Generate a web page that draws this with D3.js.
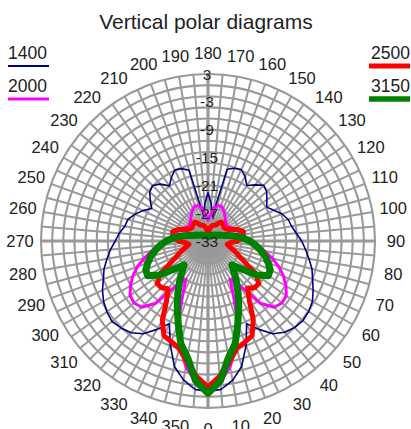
<!DOCTYPE html>
<html>
<head>
<meta charset="utf-8">
<script src="https://cdn.jsdelivr.net/npm/d3@7"></script>
<style>
  body { margin: 0; background: #fff; }
  text { font-family: "Liberation Sans", Arial, sans-serif; fill: #222; }
</style>
</head>
<body>
<svg id="chart" width="411" height="429"></svg>
<script>
// ---------- data ----------
const title = "Vertical polar diagrams";
const angles = [0,5,10,15,20,25,30,35,40,45,50,55,60,65,70,75,80,85,90,95,100,105,110,115,120,125,130,135,140,145,150,155,160,165,170,175,
                180,185,190,195,200,205,210,215,220,225,230,235,240,245,250,255,260,265,270,275,280,285,290,295,300,305,310,315,320,325,330,335,340,345,350,355];
const angleTicks = [0,10,20,30,40,50,60,70,80,90,100,110,120,130,140,150,160,170,180,190,200,210,220,230,240,250,260,270,280,290,300,310,320,330,340,350];
const radialTicks = [3,-3,-9,-15,-21,-27,-33];
const radialDomain = [-33, 3];
const seriesNames = ["1400","2000","2500","3150"];

const s1400 = [-0.5,-0.9,-2.5,-5.0,-9.0,-13.3,-11.0,-8.6,-7.3,-6.6,-6.3,-6.5,-7.0,-8.0,-9.0,-9.8,-10.9,-11.9,-12.8,-13.9,-14.7,-15.1,-16.0,-17.3,-18.4,-17.5,-16.5,-16.0,-17.2,-18.4,-17.0,-16.0,-16.3,-17.0,-27.5,-25.0,
               -22.6,-25.0,-27.5,-17.2,-16.4,-16.1,-17.2,-18.5,-17.0,-16.1,-16.6,-17.8,-19.0,-17.5,-16.2,-15.1,-14.8,-13.8,-13.0,-11.9,-10.9,-9.8,-9.0,-7.9,-7.0,-6.4,-6.0,-6.5,-7.2,-8.6,-11.0,-13.3,-9.2,-5.0,-2.6,-0.9];
const s2000 = [-1.2,-2.4,-5.5,-9.5,-14.2,-20.0,-23.5,-21.5,-15.5,-12.8,-12.2,-12.4,-13.6,-15.0,-16.7,-18.7,-20.6,-22.3,-23.7,-24.8,-25.5,-25.9,-26.3,-26.8,-27.3,-27.6,-27.7,-27.5,-27.2,-26.6,-26.0,-25.3,-24.9,-25.2,-25.8,-27.6,
               -28.5,-27.6,-25.8,-25.2,-24.9,-25.3,-26.0,-26.6,-27.2,-27.5,-27.7,-27.6,-27.3,-26.8,-26.3,-25.9,-25.5,-24.8,-23.8,-22.4,-20.7,-18.8,-16.8,-15.1,-13.7,-12.5,-12.2,-12.8,-15.5,-21.5,-23.5,-20.0,-14.3,-9.5,-5.5,-2.4];
const s2500 = [-1.5,-3.8,-6.5,-9.0,-9.8,-10.5,-13.5,-17.5,-19.7,-18.8,-18.7,-20.3,-23.8,-25.8,-27.0,-28.1,-28.8,-28.3,-26.6,-25.7,-25.3,-25.1,-25.9,-27.0,-28.0,-28.4,-28.5,-28.3,-28.1,-28.0,-28.6,-29.2,-29.4,-29.6,-30.0,-30.8,
               -31.6,-30.8,-30.0,-29.6,-29.4,-29.2,-28.6,-28.0,-28.1,-28.3,-28.5,-28.4,-28.0,-27.0,-25.9,-25.1,-25.3,-25.7,-26.6,-28.3,-28.8,-28.1,-27.0,-25.8,-23.8,-20.3,-18.7,-18.8,-19.6,-17.5,-13.3,-10.5,-9.9,-9.0,-6.6,-3.8];
const s3150 = [-0.2,-2.7,-7.5,-10.2,-14.2,-17.3,-20.0,-22.3,-24.3,-25.7,-23.7,-20.2,-18.0,-18.2,-19.2,-20.2,-21.5,-22.7,-24.0,-25.5,-27.0,-28.5,-29.5,-30.0,-30.5,-30.8,-31.0,-31.2,-31.4,-31.5,-31.6,-31.7,-31.8,-31.8,-31.9,-31.9,
               -31.9,-31.9,-31.9,-31.8,-31.8,-31.7,-31.6,-31.5,-31.4,-31.2,-31.0,-30.8,-30.5,-30.0,-29.5,-28.5,-27.0,-25.5,-24.0,-22.7,-21.5,-20.2,-19.2,-18.2,-18.0,-20.2,-23.7,-25.7,-24.3,-22.3,-20.0,-17.3,-14.2,-10.2,-7.5,-2.7];
const seriesValues = [s1400, s2000, s2500, s3150];
const seriesColors = ["#000080", "#ff00ff", "#ff0000", "#008000"];
const seriesWidths = [1.6, 3, 5, 7];

// ---------- layout ----------
const cx = 208, cy = 241, R = 167;
const svg = d3.select("#chart");

const rScale = d3.scaleLinear().domain(radialDomain).range([0, R]);
// 0° at bottom, 90° at right, 180° at top
const aScale = d3.scaleLinear().domain([0, 360]).range([Math.PI, -Math.PI]);

const g = svg.append("g").attr("transform", `translate(${cx},${cy})`);
const gridColor = "#999999";

// rings (15 equal divisions)
const ringCount = 15;
const ringVals = d3.range(1, ringCount + 1).map(k => radialDomain[0] + (radialDomain[1] - radialDomain[0]) * k / ringCount);
g.append("g").selectAll("circle").data(ringVals).join("circle")
  .attr("r", d => rScale(d))
  .attr("fill", "none")
  .attr("stroke", gridColor)
  .attr("stroke-width", 2.1);

// spokes every 5°
const spokes = d3.range(0, 360, 5);
g.append("g").selectAll("line").data(spokes).join("line")
  .attr("x1", 0).attr("y1", 0)
  .attr("x2", d => R * Math.sin(aScale(d)))
  .attr("y2", d => -R * Math.cos(aScale(d)))
  .attr("stroke", gridColor)
  .attr("stroke-width", d => d % 90 === 0 ? 3.2 : 2);

// series
const line = d3.lineRadial()
  .angle((d, i) => aScale(angles[i]))
  .radius(d => rScale(d))
  .curve(d3.curveLinearClosed);

g.append("g").selectAll("path").data(seriesValues).join("path")
  .attr("d", d => line(d))
  .attr("fill", "none")
  .attr("stroke", (d, i) => seriesColors[i])
  .attr("stroke-width", (d, i) => seriesWidths[i])
  .attr("stroke-linejoin", "round");

// radial labels on 180° axis
g.append("g").selectAll("text").data(radialTicks).join("text")
  .attr("x", d => rScale(d) * Math.sin(aScale(180)) - 1)
  .attr("y", d => -rScale(d) * Math.cos(aScale(180)))
  .attr("dy", "0.36em")
  .attr("text-anchor", "middle")
  .attr("font-size", 15.5)
  .text(d => d);

// angle labels
const labelR = 188;
g.append("g").selectAll("text").data(angleTicks).join("text")
  .attr("x", d => labelR * Math.sin(aScale(d)))
  .attr("y", d => -labelR * Math.cos(aScale(d)))
  .attr("dy", "0.36em")
  .attr("text-anchor", "middle")
  .attr("font-size", 16.5)
  .text(d => d);

// title
svg.append("text").attr("x", 206).attr("y", 29)
  .attr("text-anchor", "middle").attr("font-size", 21).text(title);

// legend
const legendPos = [
  {x: 8, y: 59, anchor: "start"},
  {x: 8, y: 92, anchor: "start"},
  {x: 410, y: 59, anchor: "end"},
  {x: 410, y: 92, anchor: "end"}
];
const legendLineW = [2, 3, 5, 5.5];
const lg = svg.append("g");
seriesNames.forEach((name, i) => {
  const p = legendPos[i];
  lg.append("text").attr("x", p.x).attr("y", p.y)
    .attr("text-anchor", p.anchor).attr("font-size", 17.5).text(name);
  const x0 = p.anchor === "start" ? p.x : p.x - 41;
  lg.append("line")
    .attr("x1", x0).attr("x2", x0 + 41)
    .attr("y1", p.y + 7).attr("y2", p.y + 7)
    .attr("stroke", seriesColors[i])
    .attr("stroke-width", legendLineW[i]);
});
</script>
</body>
</html>
